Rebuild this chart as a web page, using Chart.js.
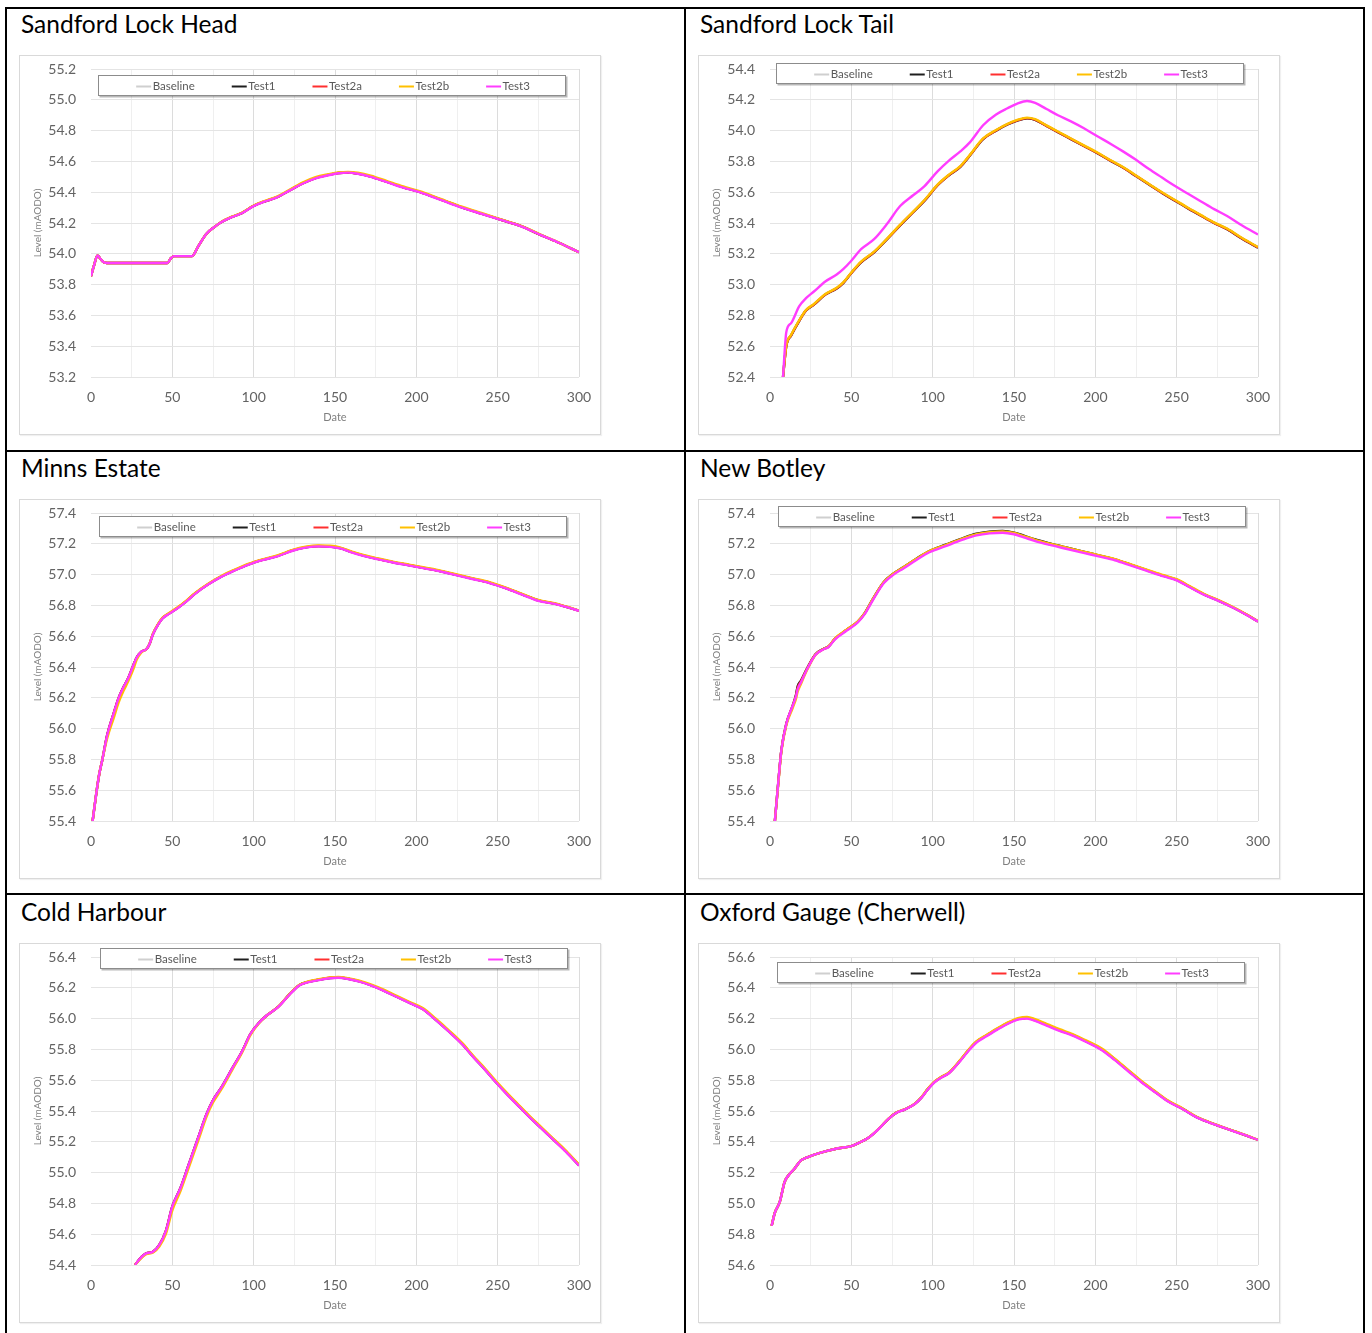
<!DOCTYPE html>
<html>
<head>
<meta charset="utf-8">
<title>Water level scenarios</title>
<script src="https://cdn.jsdelivr.net/npm/chart.js@4.4.1/dist/chart.umd.min.js"></script>
<style>
  html, body { margin: 0; padding: 0; background: #fff; }
  body { width: 1372px; height: 1333px; position: relative; overflow: hidden; font-family: Lato, "Open Sans", sans-serif; }
  .rule { position: absolute; background: #000; }
  .station { position: absolute; font-size: 24.5px; line-height: 1.2; color: #000; white-space: nowrap; }
  .frame { position: absolute; width: 580px; height: 378px; border: 1px solid #d9d9d9; background: #fff; box-shadow: 1px 1px 1px rgba(0,0,0,0.06); }
</style>
</head>
<body>
<div class="rule" style="left:5px;top:7px;width:1360px;height:2px"></div>
<div class="rule" style="left:5px;top:7px;width:2px;height:1330px"></div>
<div class="rule" style="left:684px;top:7px;width:2px;height:1330px"></div>
<div class="rule" style="left:1363px;top:7px;width:2px;height:1330px"></div>
<div class="rule" style="left:5px;top:450px;width:1360px;height:2px"></div>
<div class="rule" style="left:5px;top:893px;width:1360px;height:2px"></div>
<div id="panels"></div>
<script>
// ---- station names and series names ----
const stationNames = ['Sandford Lock Head', 'Sandford Lock Tail', 'Minns Estate', 'New Botley', 'Cold Harbour', 'Oxford Gauge (Cherwell)'];
const seriesNames = ['Baseline', 'Test1', 'Test2a', 'Test2b', 'Test3'];

// ---- Sandford Lock Head ----
const slhRange = [53.2, 55.2];
const slhDays = [0,2,4,6,8,12,20,30,40,47,49,51,56,62,66,71,76,80,87,93,100,107,114,122,130,138,146,152,158,164,172,182,192,202,215,228,240,252,264,277,288,300];
const slhBaseline = [53.855,53.93,53.99,53.965,53.945,53.94,53.94,53.94,53.94,53.94,53.97,53.985,53.985,53.985,54.05,54.13,54.175,54.205,54.241,54.266,54.311,54.341,54.366,54.411,54.457,54.492,54.512,54.525,54.528,54.521,54.502,54.467,54.432,54.402,54.352,54.302,54.261,54.221,54.181,54.12,54.07,54.01];
const slhTest1 = [53.855,53.93,53.99,53.965,53.945,53.94,53.94,53.94,53.94,53.94,53.97,53.985,53.985,53.985,54.05,54.13,54.175,54.205,54.241,54.266,54.311,54.341,54.366,54.411,54.457,54.492,54.512,54.525,54.528,54.521,54.502,54.467,54.432,54.402,54.352,54.302,54.261,54.221,54.181,54.12,54.07,54.01];
const slhTest2a = [53.855,53.93,53.99,53.965,53.945,53.94,53.94,53.94,53.94,53.94,53.97,53.985,53.985,53.985,54.05,54.13,54.175,54.205,54.241,54.266,54.311,54.341,54.366,54.411,54.457,54.492,54.512,54.525,54.528,54.521,54.502,54.467,54.432,54.402,54.352,54.302,54.261,54.221,54.181,54.12,54.07,54.01];
const slhTest2b = [53.855,53.93,53.99,53.965,53.945,53.94,53.94,53.94,53.94,53.94,53.97,53.985,53.985,53.985,54.05,54.13,54.175,54.207,54.243,54.268,54.313,54.344,54.37,54.416,54.462,54.497,54.517,54.529,54.532,54.526,54.507,54.472,54.437,54.407,54.356,54.306,54.265,54.224,54.183,54.122,54.071,54.01];
const slhTest3 = [53.855,53.93,53.99,53.965,53.945,53.94,53.94,53.94,53.94,53.94,53.97,53.985,53.985,53.985,54.05,54.13,54.175,54.205,54.24,54.265,54.31,54.34,54.365,54.41,54.455,54.49,54.51,54.523,54.527,54.52,54.5,54.465,54.43,54.4,54.35,54.3,54.26,54.22,54.18,54.12,54.07,54.01];

// ---- Sandford Lock Tail ----
const sltRange = [52.4, 54.4];
const sltDays = [8,10,13,18,22,27,34,41,45,50,56,64,72,80,88,95,103,110,117,123,131,139,146,152,158,163,170,177,185,193,201,210,217,225,233,241,249,257,265,273,281,290,300];
const sltBaseline = [52.4,52.6,52.67,52.765,52.83,52.87,52.935,52.975,53.01,53.075,53.145,53.21,53.295,53.385,53.47,53.545,53.645,53.71,53.765,53.84,53.945,54.0,54.04,54.065,54.08,54.07,54.03,53.99,53.945,53.9,53.855,53.8,53.76,53.705,53.65,53.595,53.545,53.495,53.447,53.4,53.36,53.3,53.24];
const sltTest1 = [52.4,52.6,52.67,52.765,52.83,52.87,52.935,52.975,53.01,53.075,53.145,53.21,53.295,53.385,53.47,53.545,53.645,53.71,53.765,53.84,53.945,54.0,54.04,54.065,54.08,54.07,54.03,53.99,53.945,53.9,53.855,53.8,53.76,53.705,53.65,53.595,53.545,53.495,53.447,53.4,53.36,53.3,53.24];
const sltTest2a = [52.4,52.601,52.671,52.766,52.831,52.871,52.936,52.976,53.011,53.076,53.146,53.211,53.296,53.386,53.471,53.546,53.646,53.711,53.766,53.841,53.946,54.001,54.041,54.066,54.081,54.071,54.031,53.991,53.946,53.901,53.856,53.801,53.761,53.706,53.651,53.596,53.546,53.496,53.448,53.401,53.361,53.301,53.241];
const sltTest2b = [52.4,52.604,52.674,52.769,52.834,52.874,52.939,52.979,53.014,53.079,53.149,53.214,53.299,53.389,53.474,53.549,53.649,53.714,53.769,53.844,53.949,54.004,54.044,54.069,54.084,54.074,54.034,53.994,53.949,53.904,53.859,53.804,53.764,53.709,53.654,53.599,53.549,53.499,53.451,53.404,53.364,53.304,53.244];
const sltTest3 = [52.4,52.69,52.75,52.86,52.91,52.955,53.02,53.065,53.1,53.155,53.23,53.295,53.395,53.51,53.58,53.64,53.735,53.805,53.865,53.925,54.035,54.105,54.145,54.175,54.192,54.18,54.14,54.1,54.06,54.015,53.965,53.91,53.865,53.81,53.75,53.695,53.64,53.59,53.54,53.49,53.445,53.385,53.325];

// ---- Minns Estate ----
const minRange = [55.4, 57.4];
const minDays = [1,3,5,7,10,14,17,20,23,26,28,31,34,36,38,41,44,48,53,58,64,72,80,88,97,106,115,124,132,140,147,153,160,168,176,185,195,205,215,225,235,245,255,265,275,285,292,300];
const minBaseline = [55.4,55.56,55.7,55.8,55.96,56.1,56.2,56.27,56.33,56.41,56.46,56.5,56.515,56.55,56.611,56.672,56.717,56.747,56.782,56.822,56.877,56.937,56.987,57.027,57.067,57.097,57.122,57.157,57.177,57.185,57.182,57.172,57.147,57.122,57.102,57.082,57.062,57.042,57.022,56.997,56.972,56.947,56.912,56.872,56.832,56.811,56.791,56.766];
const minTest1 = [55.4,55.56,55.7,55.8,55.96,56.1,56.2,56.27,56.33,56.41,56.46,56.5,56.515,56.55,56.611,56.672,56.717,56.747,56.782,56.822,56.877,56.937,56.987,57.027,57.067,57.097,57.122,57.157,57.177,57.185,57.182,57.172,57.147,57.122,57.102,57.082,57.062,57.042,57.022,56.997,56.972,56.947,56.912,56.872,56.832,56.811,56.791,56.766];
const minTest2a = [55.4,55.56,55.7,55.8,55.96,56.1,56.2,56.27,56.33,56.41,56.46,56.5,56.515,56.55,56.612,56.673,56.718,56.748,56.783,56.823,56.878,56.938,56.988,57.028,57.068,57.098,57.123,57.158,57.178,57.186,57.183,57.173,57.148,57.123,57.103,57.083,57.063,57.043,57.023,56.998,56.973,56.948,56.913,56.873,56.833,56.812,56.792,56.766];
const minTest2b = [55.4,55.56,55.7,55.8,55.94,56.07,56.17,56.245,56.31,56.385,56.445,56.495,56.515,56.55,56.614,56.675,56.721,56.751,56.786,56.826,56.881,56.941,56.991,57.031,57.071,57.101,57.126,57.161,57.181,57.189,57.187,57.177,57.151,57.126,57.106,57.086,57.066,57.046,57.026,57.001,56.976,56.951,56.916,56.875,56.835,56.814,56.793,56.767];
const minTest3 = [55.4,55.56,55.7,55.8,55.96,56.1,56.2,56.27,56.33,56.41,56.46,56.5,56.515,56.55,56.61,56.67,56.715,56.745,56.78,56.82,56.875,56.935,56.985,57.025,57.065,57.095,57.12,57.155,57.175,57.183,57.18,57.17,57.145,57.12,57.1,57.08,57.06,57.04,57.02,56.995,56.97,56.945,56.91,56.87,56.83,56.81,56.79,56.765];

// ---- New Botley ----
const nbRange = [55.4, 57.4];
const nbDays = [3,5,7,10,14,16,17,19,23,28,33,36,40,47,54,58,63,70,76,82,90,98,108,118,127,135,143,150,156,163,172,182,192,202,212,222,232,242,250,258,267,276,285,293,300];
const nbBaseline = [55.4,55.64,55.86,56.03,56.15,56.22,56.275,56.31,56.395,56.483,56.518,56.533,56.584,56.64,56.695,56.746,56.837,56.952,57.007,57.048,57.103,57.153,57.194,57.234,57.265,57.279,57.283,57.273,57.253,57.228,57.202,57.176,57.151,57.125,57.099,57.063,57.027,56.992,56.966,56.921,56.87,56.83,56.785,56.739,56.695];
const nbTest1 = [55.4,55.64,55.86,56.03,56.15,56.22,56.275,56.31,56.395,56.483,56.518,56.533,56.584,56.64,56.695,56.746,56.837,56.952,57.007,57.048,57.103,57.153,57.194,57.234,57.265,57.279,57.283,57.273,57.253,57.228,57.202,57.176,57.151,57.125,57.099,57.063,57.027,56.992,56.966,56.921,56.87,56.83,56.785,56.739,56.695];
const nbTest2a = [55.4,55.64,55.86,56.03,56.15,56.215,56.265,56.305,56.393,56.482,56.517,56.533,56.584,56.64,56.695,56.745,56.835,56.95,57.005,57.045,57.1,57.15,57.19,57.23,57.26,57.273,57.277,57.267,57.247,57.223,57.198,57.173,57.148,57.123,57.098,57.063,57.028,56.993,56.967,56.922,56.871,56.831,56.785,56.74,56.696];
const nbTest2b = [55.4,55.63,55.85,56.02,56.135,56.195,56.24,56.29,56.385,56.48,56.517,56.534,56.586,56.642,56.697,56.747,56.837,56.952,57.007,57.047,57.102,57.152,57.192,57.232,57.262,57.276,57.28,57.27,57.25,57.226,57.201,57.176,57.151,57.126,57.101,57.066,57.031,56.996,56.97,56.925,56.874,56.833,56.787,56.741,56.697];
const nbTest3 = [55.4,55.64,55.86,56.03,56.15,56.21,56.255,56.3,56.39,56.48,56.515,56.53,56.58,56.635,56.69,56.74,56.83,56.945,57.0,57.04,57.095,57.145,57.185,57.225,57.255,57.268,57.272,57.262,57.242,57.218,57.193,57.168,57.143,57.118,57.093,57.058,57.023,56.988,56.963,56.918,56.868,56.828,56.783,56.738,56.695];

// ---- Cold Harbour ----
const chRange = [54.4, 56.4];
const chDays = [27,30,34,38,42,46,50,55,60,66,71,75,80,87,93,98,103,108,115,122,128,133,140,147,152,158,165,172,180,188,196,204,212,220,228,235,242,249,256,263,270,277,284,292,300];
const chBaseline = [54.4,54.44,54.475,54.485,54.53,54.62,54.78,54.9,55.05,55.23,55.38,55.47,55.55,55.68,55.79,55.9,55.97,56.02,56.076,56.157,56.217,56.237,56.252,56.264,56.267,56.259,56.242,56.217,56.182,56.142,56.102,56.062,55.992,55.917,55.837,55.752,55.672,55.587,55.507,55.432,55.357,55.287,55.217,55.137,55.047];
const chTest1 = [54.4,54.44,54.475,54.485,54.53,54.62,54.78,54.9,55.05,55.23,55.38,55.47,55.55,55.68,55.79,55.9,55.97,56.02,56.076,56.157,56.217,56.237,56.252,56.264,56.267,56.259,56.242,56.217,56.182,56.142,56.102,56.062,55.992,55.917,55.837,55.752,55.672,55.587,55.507,55.432,55.357,55.287,55.217,55.137,55.047];
const chTest2a = [54.4,54.44,54.475,54.485,54.53,54.62,54.778,54.898,55.048,55.228,55.378,55.469,55.55,55.68,55.79,55.9,55.97,56.02,56.076,56.157,56.217,56.237,56.253,56.265,56.268,56.26,56.243,56.218,56.183,56.143,56.103,56.063,55.993,55.918,55.838,55.753,55.673,55.588,55.508,55.433,55.358,55.288,55.218,55.138,55.048];
const chTest2b = [54.4,54.435,54.47,54.48,54.52,54.6,54.755,54.88,55.03,55.21,55.362,55.455,55.538,55.67,55.782,55.893,55.966,56.019,56.076,56.158,56.219,56.24,56.256,56.268,56.271,56.263,56.247,56.222,56.188,56.148,56.108,56.068,55.999,55.924,55.844,55.759,55.679,55.594,55.514,55.439,55.364,55.294,55.223,55.143,55.052];
const chTest3 = [54.4,54.44,54.475,54.485,54.53,54.62,54.78,54.9,55.05,55.23,55.38,55.47,55.55,55.68,55.79,55.9,55.97,56.02,56.075,56.155,56.215,56.235,56.25,56.262,56.265,56.257,56.24,56.215,56.18,56.14,56.1,56.06,55.99,55.915,55.835,55.75,55.67,55.585,55.505,55.43,55.355,55.285,55.215,55.135,55.045];

// ---- Oxford Gauge (Cherwell) ----
const ogRange = [54.6, 56.6];
const ogDays = [1,3,6,9,12,15,19,22,26,34,42,50,55,61,66,73,78,83,89,93,97,101,105,110,117,122,127,133,140,147,153,158,163,170,178,186,195,204,212,220,228,237,245,254,262,270,278,286,293,300];
const ogBaseline = [54.855,54.94,55.01,55.14,55.19,55.225,55.28,55.295,55.312,55.338,55.358,55.372,55.395,55.43,55.475,55.551,55.591,55.611,55.646,55.687,55.742,55.788,55.818,55.848,55.929,55.995,56.05,56.09,56.135,56.175,56.2,56.206,56.191,56.161,56.126,56.095,56.05,56.0,55.935,55.865,55.794,55.723,55.663,55.612,55.562,55.526,55.496,55.466,55.44,55.412];
const ogTest1 = [54.855,54.94,55.01,55.14,55.19,55.225,55.28,55.295,55.312,55.338,55.358,55.372,55.395,55.43,55.475,55.551,55.591,55.611,55.646,55.687,55.742,55.788,55.818,55.848,55.929,55.995,56.05,56.09,56.135,56.175,56.2,56.206,56.191,56.161,56.126,56.095,56.05,56.0,55.935,55.865,55.794,55.723,55.663,55.612,55.562,55.526,55.496,55.466,55.44,55.412];
const ogTest2a = [54.855,54.94,55.01,55.14,55.19,55.225,55.28,55.295,55.312,55.338,55.358,55.372,55.395,55.43,55.475,55.551,55.591,55.611,55.646,55.686,55.741,55.787,55.817,55.847,55.928,55.994,56.049,56.089,56.134,56.174,56.199,56.204,56.189,56.159,56.124,56.094,56.049,55.999,55.934,55.864,55.793,55.722,55.662,55.612,55.561,55.526,55.496,55.466,55.44,55.412];
const ogTest2b = [54.855,54.94,55.01,55.14,55.19,55.225,55.28,55.295,55.312,55.338,55.358,55.372,55.395,55.43,55.476,55.552,55.592,55.612,55.648,55.689,55.745,55.79,55.82,55.851,55.932,55.998,56.054,56.094,56.139,56.179,56.205,56.211,56.196,56.166,56.131,56.1,56.055,56.005,55.94,55.869,55.798,55.727,55.666,55.615,55.564,55.528,55.497,55.467,55.441,55.413];
const ogTest3 = [54.855,54.94,55.01,55.14,55.19,55.225,55.28,55.295,55.312,55.338,55.358,55.372,55.395,55.43,55.475,55.55,55.59,55.61,55.645,55.685,55.74,55.785,55.815,55.845,55.925,55.99,56.045,56.085,56.13,56.17,56.195,56.2,56.185,56.155,56.12,56.09,56.045,55.995,55.93,55.86,55.79,55.72,55.66,55.61,55.56,55.525,55.495,55.465,55.44,55.412];

// ---- shared styling ----
const seriesColors = ['#cfcfcf', '#1e1e1e', '#ff2f2f', '#ffc000', '#ff3cff'];
const tickColor = '#636363';
Chart.defaults.font.family = 'Lato, "Open Sans", sans-serif';
Chart.defaults.devicePixelRatio = 1;

// Legend drawn as a framed strip across the top of the plot area
const boxedLegend = {
  id: 'boxedLegend',
  afterDatasetsDraw(chart, args, opts) {
    const ctx = chart.ctx;
    const { x, y, w, h } = opts;
    ctx.save();
    ctx.fillStyle = 'rgba(0,0,0,0.28)';
    ctx.fillRect(x + 1.5, y + 1.5, w, h);
    ctx.fillStyle = '#ffffff';
    ctx.fillRect(x, y, w, h);
    ctx.strokeStyle = '#8c8c8c';
    ctx.lineWidth = 1;
    ctx.strokeRect(x + 0.5, y + 0.5, w - 1, h - 1);
    ctx.font = '11.5px Lato, "Open Sans", sans-serif';
    ctx.textBaseline = 'middle';
    const sample = 15, textGap = 1.5, itemGap = 37;
    const items = chart.data.datasets.map(d => ({
      label: d.label, color: d.borderColor,
      width: sample + textGap + ctx.measureText(d.label).width
    }));
    const total = items.reduce((s, it) => s + it.width, 0) + itemGap * (items.length - 1);
    let cx = x + (w - total) / 2 + 1;
    const cy = y + h / 2;
    items.forEach(it => {
      ctx.strokeStyle = it.color;
      ctx.lineWidth = 2;
      ctx.beginPath();
      ctx.moveTo(cx, Math.round(cy) + 0.5);
      ctx.lineTo(cx + sample, Math.round(cy) + 0.5);
      ctx.stroke();
      ctx.fillStyle = '#595959';
      ctx.fillText(it.label, cx + sample + textGap, cy + 0.5);
      cx += it.width + itemGap;
    });
    ctx.restore();
  }
};

function makePanel(idx, left, top, days, series, range, legendPos) {
  const host = document.getElementById('panels');
  const name = document.createElement('div');
  name.className = 'station';
  name.style.left = (left + 1) + 'px';
  name.style.top = (top - 47) + 'px';
  name.textContent = stationNames[idx];
  host.appendChild(name);

  const frame = document.createElement('div');
  frame.className = 'frame';
  frame.style.left = (left - 1) + 'px';
  frame.style.top = (top - 1) + 'px';
  const canvas = document.createElement('canvas');
  frame.appendChild(canvas);
  host.appendChild(frame);

  const datasets = series.map((vals, i) => ({
    label: seriesNames[i],
    data: days.map((d, j) => ({ x: d, y: vals[j] })),
    borderColor: seriesColors[i],
    backgroundColor: seriesColors[i],
    borderWidth: 2.4,
    pointRadius: 0,
    cubicInterpolationMode: 'monotone',
    order: series.length - i
  }));

  new Chart(canvas, {
    type: 'line',
    data: { datasets },
    plugins: [boxedLegend],
    options: {
      responsive: true,
      maintainAspectRatio: false,
      animation: false,
      events: [],
      layout: { padding: { top: 13, right: 21, bottom: 0, left: 0 } },
      plugins: {
        legend: { display: false },
        tooltip: { enabled: false },
        boxedLegend: legendPos
      },
      scales: {
        x: {
          type: 'linear', min: 0, max: 300,
          ticks: {
            stepSize: 25, autoSkip: false, maxRotation: 0, padding: 12,
            color: tickColor, font: { size: 14 },
            callback: v => (v % 50 === 0 ? String(v) : '')
          },
          grid: {
            drawTicks: false,
            color: c => (c.tick && c.tick.value === 0) ? 'rgba(0,0,0,0)' : (c.tick && c.tick.value % 50 === 0 ? '#dcdcdc' : '#efefef')
          },
          border: { display: false },
          title: { display: true, text: 'Date', color: '#7f7f7f', font: { size: 11 }, padding: { top: 0, bottom: 10 } },
          afterFit: s => { s.height = 57; s.paddingLeft = 0; s.paddingRight = 0; }
        },
        y: {
          min: range[0], max: range[1],
          ticks: { stepSize: 0.2, color: tickColor, font: { size: 14 }, padding: 15, callback: v => v.toFixed(1) },
          grid: { drawTicks: false, color: '#e4e4e4' },
          border: { display: false },
          title: { display: true, text: 'Level (mAODO)', color: '#7f7f7f', font: { size: 10 }, padding: { top: 12, bottom: 0 } },
          afterFit: s => { s.width = 71; s.paddingTop = 0; s.paddingBottom = 0; }
        }
      }
    }
  });
}

makePanel(0, 20, 56, slhDays, [slhBaseline, slhTest1, slhTest2a, slhTest2b, slhTest3], slhRange, { x: 78, y: 19, w: 468, h: 21 });
makePanel(1, 699, 56, sltDays, [sltBaseline, sltTest1, sltTest2a, sltTest2b, sltTest3], sltRange, { x: 77, y: 7, w: 468, h: 21 });
makePanel(2, 20, 500, minDays, [minBaseline, minTest1, minTest2a, minTest2b, minTest3], minRange, { x: 79, y: 16, w: 468, h: 21 });
makePanel(3, 699, 500, nbDays, [nbBaseline, nbTest1, nbTest2a, nbTest2b, nbTest3], nbRange, { x: 79, y: 6, w: 468, h: 21 });
makePanel(4, 20, 944, chDays, [chBaseline, chTest1, chTest2a, chTest2b, chTest3], chRange, { x: 80, y: 4, w: 468, h: 21 });
makePanel(5, 699, 944, ogDays, [ogBaseline, ogTest1, ogTest2a, ogTest2b, ogTest3], ogRange, { x: 78, y: 18, w: 468, h: 21 });
</script>
</body>
</html>
